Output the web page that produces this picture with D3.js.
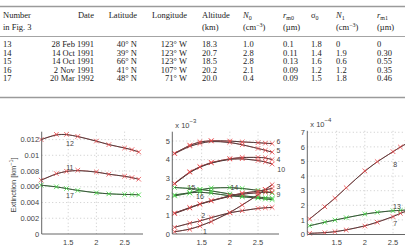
<!DOCTYPE html>
<html>
<head>
<meta charset="utf-8">
<script src="https://cdn.jsdelivr.net/npm/d3@7"></script>
<style>
  body { margin: 0; background: #fff; }
  svg { display: block; }
  .tb { font-family: "Liberation Serif", "DejaVu Serif", serif; font-size: 8.5px; fill: #222; }
  .tk { font-family: "Liberation Sans", Arial, sans-serif; font-size: 7.5px; fill: #444; }
  .lb { font-family: "Liberation Sans", Arial, sans-serif; font-size: 7px; fill: #444; }
</style>
</head>
<body>
<svg width="405" height="250"></svg>
<script>
// ---- table data ----
const numbers    = ["13", "14", "15", "16", "17"];
const dates      = ["28 Feb 1991", "14 Oct 1991", "14 Oct 1991", "2 Nov 1991", "20 Mar 1992"];
const latitudes  = ["40° N", "39° N", "66° N", "41° N", "48° N"];
const longitudes = ["123° W", "123° W", "123° W", "107° W", "71° W"];
const altitudes  = ["18.3", "20.7", "18.5", "20.2", "20.0"];
const n0         = ["1.0", "2.8", "2.8", "2.1", "0.4"];
const rm0        = ["0.1", "0.11", "0.13", "0.09", "0.09"];
const sigma0     = ["1.8", "1.4", "1.6", "1.2", "1.5"];
const n1         = ["0", "1.9", "0.6", "1.2", "1.8"];
const rm1        = ["0", "0.30", "0.55", "0.35", "0.46"];

// ---- chart data (wavelength in µm) ----
const wl = [1.02, 1.29, 1.47, 1.67, 2.0, 2.22, 2.5, 2.63, 2.75];
const xTicks = [1.5, 2, 2.5];
const yTicks1 = [0, 0.002, 0.004, 0.006, 0.008, 0.01, 0.012];
const yTicks2 = [0, 1, 2, 3, 4, 5];
const yTicks3 = [0, 1, 2, 3, 4, 5, 6, 7];

// panel 1 (km^-1)
const ext12 = [0.0120, 0.01266, 0.01266, 0.0124, 0.01181, 0.01135, 0.01093, 0.01072, 0.01042];
const ext11 = [0.00684, 0.00768, 0.00797, 0.0081, 0.00789, 0.00759, 0.00734, 0.00717, 0.00696];
const ext17 = [0.0062, 0.0060, 0.00578, 0.00553, 0.00523, 0.0051, 0.00502, 0.00502, 0.00498];
// panel 2 (x 10^-3)
const ext6  = [4.34, 4.78, 4.96, 5.02, 5.0, 4.95, 4.91, 4.88, 4.86];
const ext5  = [4.32, 4.73, 4.87, 5.0, 4.93, 4.8, 4.6, 4.5, 4.4];
const ext4  = [2.72, 3.35, 3.62, 3.85, 4.05, 4.12, 4.12, 4.1, 4.0];
const ext10 = [2.7, 3.32, 3.6, 3.83, 4.03, 4.05, 3.95, 3.88, 3.76];
const ext3  = [1.13, 1.42, 1.62, 1.8, 2.05, 2.2, 2.3, 2.38, 2.45];
const ext9  = [1.1, 1.4, 1.6, 1.78, 2.03, 2.15, 2.22, 2.24, 2.25];
const ext2  = [0.36, 0.58, 0.7, 0.88, 1.15, 1.25, 1.38, 1.41, 1.43];
const ext1  = [0.12, 0.25, 0.43, 0.66, 1.15, 1.56, 2.1, 2.4, 2.65];
const ext14 = [2.05, 2.2, 2.38, 2.48, 2.5, 2.45, 2.35, 2.28, 2.2];
const ext15 = [2.5, 2.45, 2.4, 2.32, 2.15, 2.05, 1.98, 1.95, 1.92];
const ext16 = [2.1, 2.22, 2.25, 2.2, 2.05, 2.0, 1.93, 1.88, 1.85];
// panel 3 (x 10^-4)
const ext8  = [1.06, 1.9, 2.48, 3.2, 4.35, 4.99, 5.67, 5.99, 6.25];
const ext13 = [0.6, 0.84, 0.99, 1.15, 1.4, 1.52, 1.63, 1.65, 1.68];
const ext7  = [0.08, 0.12, 0.19, 0.31, 0.58, 0.84, 1.22, 1.45, 1.62];

const red = "#e8474a", green = "#3fd43f";

const svg = d3.select("svg");

// ---------- table ----------
const tbl = svg.append("g");
const rule = (y, w) => tbl.append("line").attr("x1", 0).attr("x2", 405)
  .attr("y1", y).attr("y2", y).attr("stroke", "#9a9a9a").attr("stroke-width", w);
rule(6.5, 1.4); rule(36.5, 0.9); rule(97.5, 1.4);

function txt(x, y, s, anchor) {
  return tbl.append("text").attr("class", "tb").attr("x", x).attr("y", y)
    .attr("text-anchor", anchor || "start").text(s);
}
function sym(x, y, main, sub, italic) {
  const t = tbl.append("text").attr("class", "tb").attr("x", x).attr("y", y);
  t.append("tspan").attr("font-style", italic ? "italic" : null).text(main);
  t.append("tspan").attr("font-size", "6px").attr("dy", 2).text(sub);
}
function unit(x, y) {
  const t = tbl.append("text").attr("class", "tb").attr("x", x).attr("y", y);
  t.append("tspan").text("(cm");
  t.append("tspan").attr("font-size", "6px").attr("dy", -3).text("−3");
  t.append("tspan").attr("dy", 3).text(")");
}
const h1 = 18, h2 = 30;
txt(3, h1, "Number"); txt(3, h2, "in Fig. 3");
txt(94, h1, "Date", "end");
txt(137, h1, "Latitude", "end");
txt(187, h1, "Longitude", "end");
txt(202, h1, "Altitude"); txt(202, h2, "(km)");
sym(243, h1, "N", "0", true); unit(243, h2);
sym(283, h1, "r", "m0", true); txt(283, h2, "(µm)");
sym(311, h1, "σ", "0", false);
sym(336, h1, "N", "1", true); unit(336, h2);
sym(377, h1, "r", "m1", true); txt(377, h2, "(µm)");

numbers.forEach((d, i) => {
  const y = 47 + i * 8.5;
  txt(3, y, d);
  txt(94, y, dates[i], "end");
  txt(137, y, latitudes[i], "end");
  txt(187, y, longitudes[i], "end");
  txt(202, y, altitudes[i]);
  txt(243, y, n0[i]);
  txt(283, y, rm0[i]);
  txt(311, y, sigma0[i]);
  txt(336, y, n1[i]);
  txt(377, y, rm1[i]);
});

// ---------- panels ----------
const pxPerUnit = 56.4;
function panel(cfg) {
  const g = svg.append("g");
  const x = d3.scaleLinear()
    .domain([cfg.x0, cfg.x0 + (cfg.right - cfg.left) / pxPerUnit])
    .range([cfg.left, cfg.right]);
  const y = d3.scaleLinear().domain([0, cfg.yMax]).range([cfg.bottom, cfg.top]);

  // grid
  g.selectAll(".gx").data(xTicks).join("line")
    .attr("x1", d => x(d)).attr("x2", d => x(d))
    .attr("y1", cfg.top).attr("y2", cfg.bottom)
    .attr("stroke", "#b5b5b5").attr("stroke-width", 0.7).attr("stroke-dasharray", "1,2.5");
  g.selectAll(".gy").data(cfg.yTicks.filter(d => d > 0)).join("line")
    .attr("x1", cfg.left).attr("x2", cfg.right)
    .attr("y1", d => y(d)).attr("y2", d => y(d))
    .attr("stroke", "#b5b5b5").attr("stroke-width", 0.7).attr("stroke-dasharray", "1,2.5");

  // tick labels
  g.selectAll(".ty").data(cfg.yTicks).join("text").attr("class", "tk")
    .attr("x", cfg.left - 2.5).attr("y", d => y(d) + 2.7)
    .attr("text-anchor", "end").text(cfg.fmt);
  g.selectAll(".tx").data(xTicks).join("text").attr("class", "tk")
    .attr("x", d => x(d)).attr("y", cfg.bottom + 10.5)
    .attr("text-anchor", "middle").text(d => d);

  // series
  const lineLin = d3.line().x((d, i) => x(wl[i])).y(d => y(d));
  const lineFit = d3.line().x((d, i) => x(wl[i])).y(d => y(d)).curve(d3.curveBasis);
  cfg.series.forEach(s => {
    g.append("path").attr("d", lineLin(s.v)).attr("fill", "none")
      .attr("stroke", s.c).attr("stroke-width", 0.8);
    g.append("path").attr("d", lineFit(s.v)).attr("fill", "none")
      .attr("stroke", "#3a3a3a").attr("stroke-width", 0.9);
    const r = 2.3;
    g.append("g").selectAll("path").data(s.v).join("path")
      .attr("d", (d, i) => {
        const px = x(wl[i]), py = y(d);
        return `M${px - r},${py - r}L${px + r},${py + r}M${px - r},${py + r}L${px + r},${py - r}`;
      })
      .attr("stroke", s.c).attr("stroke-width", 0.8).attr("fill", "none");
  });

  // axes
  g.append("line").attr("x1", cfg.left).attr("x2", cfg.left)
    .attr("y1", cfg.top).attr("y2", cfg.bottom).attr("stroke", "#555").attr("stroke-width", 0.9);
  g.append("line").attr("x1", cfg.left).attr("x2", cfg.right)
    .attr("y1", cfg.bottom).attr("y2", cfg.bottom).attr("stroke", "#555").attr("stroke-width", 0.9);

  // curve labels
  g.selectAll(".cl").data(cfg.labels).join("text").attr("class", "lb")
    .attr("x", d => x(d.x)).attr("y", d => y(d.y) + 2.5)
    .attr("text-anchor", "middle").text(d => d.t);

  // multiplier
  if (cfg.exp) {
    const t = g.append("text").attr("class", "tk").attr("x", cfg.left + 3).attr("y", cfg.top - 4);
    t.append("tspan").text("x 10");
    t.append("tspan").attr("font-size", "6px").attr("dy", -5).text(cfg.exp);
  }
  // y axis title
  if (cfg.yTitle) {
    const t = g.append("text").attr("class", "tk")
      .attr("transform", `translate(15.5,${(cfg.top + cfg.bottom) / 2 + 2}) rotate(-90)`)
      .attr("text-anchor", "middle");
    t.append("tspan").text("Extinction [km");
    t.append("tspan").attr("font-size", "5.5px").attr("dy", -3).text("−1");
    t.append("tspan").attr("dy", 3).text("]");
  }
  // x axis title (cut by the frame, as in the source)
  g.append("text").attr("class", "tk").attr("x", cfg.titleX).attr("y", 254.5)
    .attr("text-anchor", "middle").text("λ [µm]");
  return g;
}

panel({
  left: 41.7, right: 143, top: 131.7, bottom: 234, x0: 1.03, yMax: 0.013,
  yTicks: yTicks1, fmt: d => String(d), titleX: 97, yTitle: true,
  series: [{ v: ext12, c: red }, { v: ext11, c: red }, { v: ext17, c: green }],
  labels: [{ x: 1.53, y: 0.01148, t: "12" }, { x: 1.53, y: 0.00839, t: "11" }, { x: 1.53, y: 0.00485, t: "17" }]
});

panel({
  left: 172.3, right: 279, top: 131.7, bottom: 234, x0: 0.98, yMax: 5.5,
  yTicks: yTicks2, fmt: d => d, exp: "−3", titleX: 229,
  series: [
    { v: ext14, c: green }, { v: ext15, c: green }, { v: ext16, c: green },
    { v: ext6, c: red }, { v: ext5, c: red }, { v: ext4, c: red }, { v: ext10, c: red },
    { v: ext3, c: red }, { v: ext9, c: red }, { v: ext2, c: red }, { v: ext1, c: red }
  ],
  labels: [
    { x: 1.32, y: 2.49, t: "15" }, { x: 1.47, y: 2.0, t: "16" }, { x: 2.08, y: 2.49, t: "14" },
    { x: 1.53, y: 0.97, t: "2" }, { x: 1.56, y: 0.13, t: "1" },
    { x: 2.86, y: 4.96, t: "6" }, { x: 2.86, y: 4.48, t: "5" }, { x: 2.86, y: 3.98, t: "4" },
    { x: 2.91, y: 3.48, t: "10" }, { x: 2.86, y: 2.58, t: "3" }, { x: 2.86, y: 2.12, t: "9" }
  ]
});

panel({
  left: 307.3, right: 420, top: 130.8, bottom: 234.5, x0: 0.98, yMax: 7.1,
  yTicks: yTicks3, fmt: d => d, exp: "−4", titleX: 363,
  series: [{ v: ext13, c: green }, { v: ext8, c: red }, { v: ext7, c: red }],
  labels: [{ x: 2.54, y: 4.81, t: "8" }, { x: 2.57, y: 1.9, t: "13" }, { x: 2.54, y: 0.77, t: "7" }]
});
</script>
</body>
</html>
